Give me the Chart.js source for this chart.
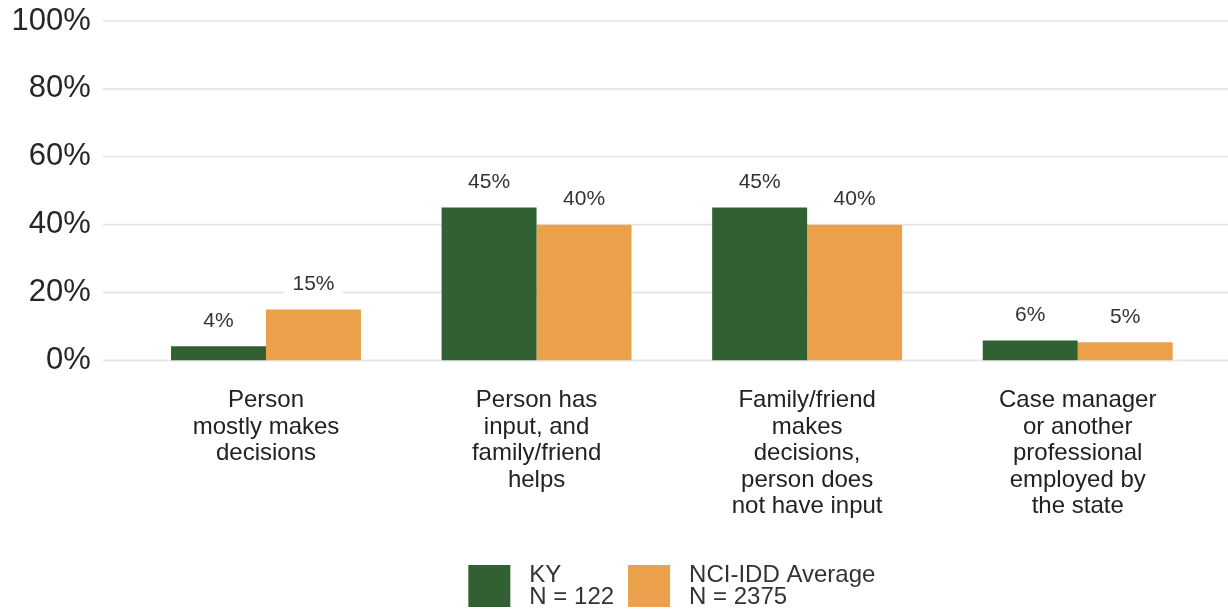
<!DOCTYPE html>
<html>
<head>
<meta charset="utf-8">
<script src="https://cdn.jsdelivr.net/npm/chart.js@4/dist/chart.umd.min.js"></script>
<style>
html,body{margin:0;padding:0;background:#fff;}
#wrap{width:1228px;height:612px;position:relative;}
</style>
</head>
<body>
<div id="wrap"><canvas id="c" width="1228" height="612"></canvas></div>
<script>
// ---- data ----
const categories = [
  ['Person', 'mostly makes', 'decisions'],
  ['Person has', 'input, and', 'family/friend', 'helps'],
  ['Family/friend', 'makes', 'decisions,', 'person does', 'not have input'],
  ['Case manager', 'or another', 'professional', 'employed by', 'the state']
];
const kyValues = [4.2, 45.1, 45.1, 5.9];
const nciValues = [15.0, 40.0, 40.0, 5.4];
const seriesNames = ['KY', 'NCI-IDD Average'];
const seriesSizes = ['N = 122', 'N = 2375'];
const yTickValues = [0, 20, 40, 60, 80, 100];

const GREEN = '#316133';
const ORANGE = '#eba04c';
const FONT = '"Liberation Sans", Arial, sans-serif';

const gridPlugin = {
  id: 'fullGrid',
  beforeDatasetsDraw(chart) {
    const ctx = chart.ctx, y = chart.scales.y;
    ctx.save();
    ctx.strokeStyle = '#e8e8e8';
    ctx.lineWidth = 2;
    yTickValues.forEach(v => {
      const py = y.getPixelForValue(v);
      ctx.beginPath();
      ctx.moveTo(103, py);
      ctx.lineTo(chart.width, py);
      ctx.stroke();
    });
    ctx.restore();
  }
};

const valueLabelPlugin = {
  id: 'valueLabels',
  afterDatasetsDraw(chart) {
    const ctx = chart.ctx;
    ctx.save();
    ctx.font = '21px ' + FONT;
    ctx.textAlign = 'center';
    ctx.textBaseline = 'middle';
    chart.data.datasets.forEach((ds, di) => {
      const meta = chart.getDatasetMeta(di);
      meta.data.forEach((bar, i) => {
        const txt = Math.round(ds.data[i]) + '%';
        const ty = bar.y - 25;
        const w = ctx.measureText(txt).width;
        ctx.fillStyle = '#ffffff';
        ctx.fillRect(bar.x - w / 2 - 8, ty - 12, w + 16, 24);
        ctx.fillStyle = '#333333';
        ctx.fillText(txt, bar.x, ty);
      });
    });
    ctx.restore();
  }
};

const legendPlugin = {
  id: 'customLegend',
  afterDraw(chart) {
    const ctx = chart.ctx;
    const colors = [GREEN, ORANGE];
    ctx.save();
    ctx.font = '24px ' + FONT;
    const box = 42, gapText = 19, gapItem = 14;
    const widths = seriesNames.map((n, i) => Math.max(ctx.measureText(n).width, ctx.measureText(seriesSizes[i]).width));
    const total = widths.reduce((a, w) => a + box + gapText + w, 0) + gapItem * (widths.length - 1);
    const ca = chart.chartArea;
    let x = (ca.left + ca.right) / 2 - total / 2;
    const top = 565;
    ctx.textAlign = 'left';
    ctx.textBaseline = 'middle';
    seriesNames.forEach((n, i) => {
      ctx.fillStyle = colors[i];
      ctx.fillRect(x, top, box, box);
      ctx.fillStyle = '#333333';
      ctx.fillText(n, x + box + gapText, 575);
      ctx.fillText(seriesSizes[i], x + box + gapText, 597);
      x += box + gapText + widths[i] + gapItem;
    });
    ctx.restore();
  }
};

new Chart(document.getElementById('c'), {
  type: 'bar',
  data: {
    labels: categories,
    datasets: [
      { label: seriesNames[0], data: kyValues, backgroundColor: GREEN, categoryPercentage: 0.702, barPercentage: 1.0 },
      { label: seriesNames[1], data: nciValues, backgroundColor: ORANGE, categoryPercentage: 0.702, barPercentage: 1.0 }
    ]
  },
  options: {
    responsive: false,
    animation: false,
    devicePixelRatio: 1,
    layout: { padding: { top: 21, right: 15, bottom: 0, left: 0 } },
    plugins: {
      legend: { display: false },
      tooltip: { enabled: false }
    },
    scales: {
      x: {
        grid: { display: false, drawTicks: false },
        border: { display: false },
        ticks: {
          color: '#222222',
          font: { family: FONT, size: 24, lineHeight: 1.1 },
          padding: 27,
          maxRotation: 0,
          autoSkip: false
        },
        afterFit(scale) { scale.height = 251.5; scale.paddingLeft = 0; scale.paddingRight = 0; }
      },
      y: {
        min: 0, max: 100,
        grid: { display: false, drawTicks: false },
        border: { display: false },
        afterBuildTicks(scale) { scale.ticks = yTickValues.map(v => ({ value: v })); },
        ticks: {
          color: '#262626',
          font: { family: FONT, size: 31 },
          padding: 40,
          callback: v => v + '%'
        },
        afterFit(scale) { scale.width = 130.7; scale.paddingTop = 0; scale.paddingBottom = 0; }
      }
    }
  },
  plugins: [gridPlugin, valueLabelPlugin, legendPlugin]
});
</script>
</body>
</html>
